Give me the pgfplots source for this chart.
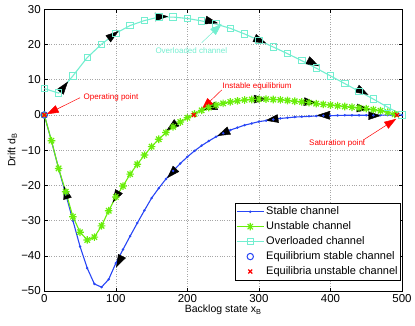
\documentclass[border=0pt]{standalone}
\usepackage{fontspec}
\setmainfont{Liberation Sans}
\usepackage{pgfplots}
\pgfplotsset{compat=1.18}
\usetikzlibrary{arrows.meta}

\definecolor{stableblue}{RGB}{40,70,245}
\definecolor{unstgreen}{RGB}{105,238,10}
\definecolor{overcyan}{RGB}{115,238,208}

% matlab style 8-armed star
\pgfdeclareplotmark{mstar}{%
  \pgfpathmoveto{\pgfqpoint{-\pgfplotmarksize}{0pt}}\pgfpathlineto{\pgfqpoint{\pgfplotmarksize}{0pt}}%
  \pgfpathmoveto{\pgfqpoint{0pt}{-\pgfplotmarksize}}\pgfpathlineto{\pgfqpoint{0pt}{\pgfplotmarksize}}%
  \pgfpathmoveto{\pgfqpoint{-0.7071\pgfplotmarksize}{-0.7071\pgfplotmarksize}}\pgfpathlineto{\pgfqpoint{0.7071\pgfplotmarksize}{0.7071\pgfplotmarksize}}%
  \pgfpathmoveto{\pgfqpoint{-0.7071\pgfplotmarksize}{0.7071\pgfplotmarksize}}\pgfpathlineto{\pgfqpoint{0.7071\pgfplotmarksize}{-0.7071\pgfplotmarksize}}%
  \pgfusepathqstroke}

\begin{document}
\begin{tikzpicture}
\begin{axis}[
  scale only axis, width=357.7pt, height=281.7pt,
  xmin=0, xmax=500, ymin=-50, ymax=30,
  xtick={0,100,...,500}, ytick={-50,-40,...,30},
  yticklabels={−50,−40,−30,−20,−10,0,10,20,30},
  tick align=inside, major tick length=3.5pt,
  grid=major, major grid style={dotted, gray!70, line width=0.5pt},
  axis line style={black, line width=0.5pt},
  tick style={black, line width=0.5pt},
  ticklabel style={font=\fontsize{11.5}{13}\selectfont},
  xticklabel style={yshift=0.5pt},
  /pgf/number format/assume math mode=true,
  xlabel={Backlog state x\textsubscript{B}},
  ylabel={Drift d\textsubscript{B}},
  label style={font=\fontsize{10.5}{12}\selectfont},
  xlabel style={at={(axis description cs:0.5,-0.068)}, anchor=center},
  ylabel style={at={(axis description cs:-0.0895,0.5)}, anchor=center},
  clip=false,
  legend style={at={(0.997,0.039)}, anchor=south east, draw=black, line width=0.5pt,
    fill=white, font=\fontsize{11}{12}\selectfont, inner xsep=1pt, inner ysep=1.5pt,
    row sep=1.5pt},
  legend cell align=left,
  legend image code/.code={\draw[mark repeat=2,mark phase=2] plot coordinates {(0cm,0cm) (0.47cm,0cm) (0.94cm,0cm)};},
]
% stable channel
\addplot[stableblue, line width=1.1pt, mark=*, mark size=0.6pt] table {
x y
0 0
10 -7.4
20 -15.2
30 -22.5
40 -30
50 -37.4
60 -43.5
70 -48
80 -48.9
90 -46.7
100 -42.1
110 -38.2
120 -34.4
130 -30.7
140 -27.1
150 -23.6
160 -20.8
170 -18.2
180 -15.9
190 -13.8
200 -11.9
210 -10.2
220 -8.7
230 -7.4
240 -6.2
250 -5.2
260 -4.3
270 -3.6
280 -2.9
290 -2.4
300 -1.9
310 -1.6
320 -1.3
330 -1.0
340 -0.8
350 -0.6
360 -0.5
370 -0.4
380 -0.3
390 -0.2
400 -0.2
410 -0.15
420 -0.1
430 -0.1
440 -0.1
450 -0.1
460 -0.1
470 -0.05
480 -0.05
490 0
500 0
};
\addlegendentry{Stable channel}
% unstable channel
\addplot[unstgreen, line width=1.1pt, mark=mstar, mark size=3.8pt, mark options={line width=1.2pt}] table {
x y
0 0
10 -7.3
20 -15.2
30 -21.8
40 -28.9
50 -33.3
60 -35.5
70 -34.7
80 -31.5
90 -27.2
100 -23.3
110 -20.2
120 -16.8
130 -14.0
140 -11.4
150 -9.0
160 -6.9
170 -5.0
180 -3.4
190 -2.0
200 -0.8
210 0.3
220 1.3
230 2.1
240 2.8
250 3.3
260 3.7
270 4.0
280 4.25
290 4.4
300 4.5
310 4.5
320 4.4
330 4.3
340 4.1
350 3.9
360 3.7
370 3.5
380 3.2
390 3.0
400 2.8
410 2.6
420 2.4
430 2.2
440 2.0
450 1.8
460 1.5
470 1.2
480 0.8
490 0.2
};
\addlegendentry{Unstable channel}
% overloaded channel
\addplot[overcyan, line width=1.1pt, mark=square, mark size=3.2pt, mark options={line width=0.9pt}] table {
x y
0 7.5
20 6.2
40 11.1
60 16.3
80 20.1
100 23.2
120 25.4
140 26.8
160 27.8
180 27.8
200 27.4
220 26.7
240 25.8
260 24.6
280 23.0
300 21.2
320 19.3
340 17.4
360 15.4
380 13.3
400 11.1
420 8.9
440 6.7
460 4.5
480 2.2
500 0
};
\addlegendentry{Overloaded channel}
% equilibria
\addplot[only marks, stableblue, mark=o, mark size=3.2pt, line width=1pt] table {
x y
0 0
};
\addlegendentry{Equilibrium stable channel}
\addplot[only marks, red, mark=x, mark size=2.8pt, line width=1.3pt] table {
x y
0 0
209 0
493 0
};
\addlegendentry{Equilibria unstable channel}
% direction arrows along the trajectories
\addplot[black, forget plot, line width=0.4pt, quiver={u=\thisrow{u}, v=\thisrow{v}},
  -{Triangle[length=13pt, width=8.5pt]}] table {
x y u v
22.15 6.52 10.9 2.95
89.2 21.6 14.55 2.21
154.9 27.81 18.18 0.18
225.2 26.95 17.6 -0.89
293.75 21.86 16.5 -1.51
367.9 15.55 16.2 -1.7
437.05 7.49 15.9 -1.77
32.55 -23.77 -5.1 3.54
104.45 -21.7 -8.9 -3.21
185.25 -2.18 -14.5 -2.25
240.55 2.61 -17.1 -1.22
292.9 4.5 18.18 0
363 3.785 18 -0.37
436.95 1.985 18.1 -0.37
108.6 -40.06 -8.2 -3.28
184.25 -15.25 -12.5 -2.7
258.25 -4.425 -16.5 -1.55
327 -1.025 -18 -0.55
399.1 -0.1 -18.18 0
452.9 -0.2 18.18 0
};
% annotations
\addplot[red, forget plot, line width=0.5pt, quiver={u=\thisrow{u}, v=\thisrow{v}},
  -{Triangle[length=12pt, width=8pt]}] table {
x y u v
50 4.9 -46.7 -4.7
248 7.1 -28 -5.5
446 -7.1 46 6
};
\addplot[overcyan, forget plot, line width=0.5pt, quiver={u=\thisrow{u}, v=\thisrow{v}},
  -{Triangle[length=12pt, width=8pt]}] table {
x y u v
220 20.5 28 5.4
};
\node[red, font=\fontsize{8}{9}\selectfont] at (axis cs:93.3,5) {Operating point};
\node[red, font=\fontsize{8}{9}\selectfont] at (axis cs:297.5,8) {Instable equilibrium};
\node[red, font=\fontsize{8}{9}\selectfont] at (axis cs:409.4,-8) {Saturation point};
\node[overcyan, font=\fontsize{8}{9}\selectfont] at (axis cs:205.5,18.2) {Overloaded channel};
\end{axis}
\pgfresetboundingbox
\path (-44.3pt,-34pt) rectangle (370.7pt,291pt);
\end{tikzpicture}
\end{document}
